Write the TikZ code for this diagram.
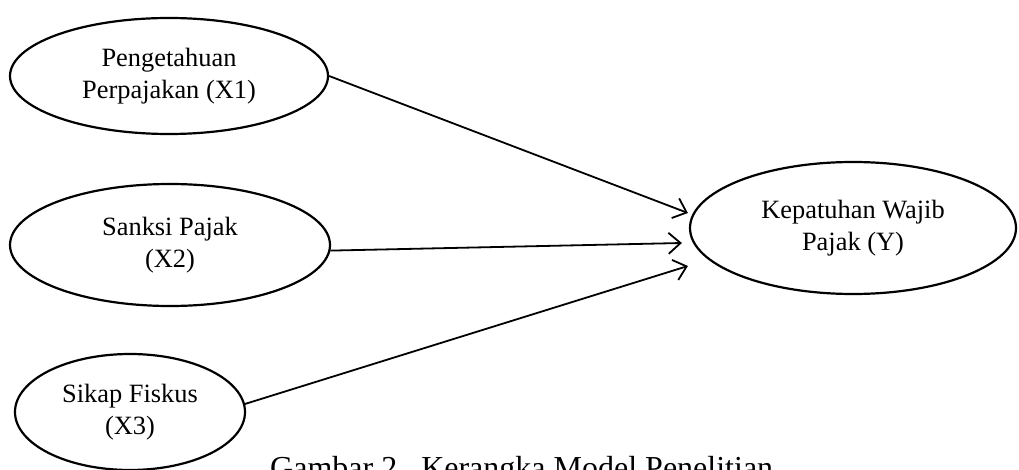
\documentclass[tikz,border=0pt]{standalone}
\usepackage{fontspec}
\setmainfont{Liberation Serif}
\usepackage{tikz}
\usetikzlibrary{shapes.geometric,arrows.meta,positioning,calc}
\tikzset{var/.style={draw,ellipse,line width=2.2pt,inner sep=0pt,align=center,
    font=\fontsize{26.4}{31.5}\selectfont}}
\tikzstyle{arr}=[->,line width=1.8pt]

\begin{document}
\begin{tikzpicture}[x=1pt,y=-1pt,>={Straight Barb[length=12pt,width=21pt]}]
    \useasboundingbox (0,0) rectangle (1019,470);
    \clip (0,0) rectangle (1019,470);
    \node (x1) [var,minimum width=318pt,minimum height=116pt] at (169,76) {Pengetahuan\\Perpajakan (X1)};
    \node (x2) [var,minimum width=320pt,minimum height=122pt] at (170,245) {Sanksi Pajak\\(X2)};
    \node (x3) [var,minimum width=230pt,minimum height=116pt] at (130,412) {Sikap Fiskus\\(X3)};
    \node (y) [var,minimum width=326pt,minimum height=132pt] at (853,228) {Kepatuhan Wajib\\Pajak (Y)};
    \node (cap) [anchor=base west,inner sep=0pt,font=\fontsize{32}{38}\selectfont] at (270,478) {Gambar 2.\ \ Kerangka Model Penelitian};
    % ujung panah di depan Y
    \coordinate (t1) at ($(y.west)+(-1,-15)$);
    \coordinate (t2) at ($(y.west)+(-7,15)$);
    \coordinate (t3) at ($(y.west)+(-1,38)$);
    \draw[arr] (x1.east) -- (t1);
    \draw[arr] (x2.-2.5) -- (t2);
    \draw[arr] (x3.4.5) -- (t3);
\end{tikzpicture}
\end{document}
